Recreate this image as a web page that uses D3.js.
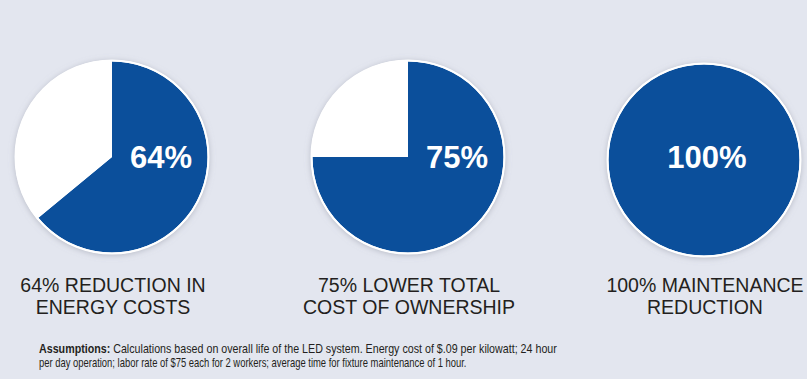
<!DOCTYPE html>
<html><head><meta charset="utf-8">
<script src="https://cdn.jsdelivr.net/npm/d3@7"></script>
<style>
html,body{margin:0;padding:0;background:#e3e6ef;}
svg{display:block;}
</style></head>
<body>
<script>
const values = [64, 75, 100];
const valueLabels = ["64%", "75%", "100%"];
const captionLine1 = ["64% REDUCTION IN", "75% LOWER TOTAL", "100% MAINTENANCE"];
const captionLine2 = ["ENERGY COSTS", "COST OF OWNERSHIP", "REDUCTION"];
const noteBold = "Assumptions:";
const noteLine1 = " Calculations based on overall life of the LED system. Energy cost of $.09 per kilowatt; 24 hour";
const noteLine2 = "per day operation; labor rate of $75 each for 2 workers; average time for fixture maintenance of 1 hour.";

const W = 807, H = 379;
const svg = d3.select("body").append("svg").attr("width", W).attr("height", H);
svg.append("rect").attr("width", W).attr("height", H).attr("fill", "#e3e6ef");

const defs = svg.append("defs");
const f = defs.append("filter").attr("id","sh").attr("x","-20%").attr("y","-20%").attr("width","140%").attr("height","140%");
f.append("feDropShadow").attr("dx",0).attr("dy",1).attr("stdDeviation",3).attr("flood-color","#8a8f9c").attr("flood-opacity",0.55);

const x = d3.scalePoint().domain(d3.range(values.length)).range([112, 704]);
const r = 95.5;
const blue = "#0b4f9b";

const pie = d3.pie().sort(null).value(d => d);
const arc = d3.arc().innerRadius(0).outerRadius(r);

values.forEach((v, i) => {
  const cy = i === 2 ? 160 : 157;
  const g = svg.append("g").attr("transform", `translate(${x(i)},${cy})`);
  g.append("circle").attr("r", r + 1.5).attr("fill", "#ffffff").attr("filter","url(#sh)");
  const arcs = pie([v, 100 - v]);
  g.selectAll("path").data(arcs).join("path")
    .attr("d", arc)
    .attr("fill", (d, j) => j === 0 ? blue : "#ffffff");
  g.append("circle").attr("r", r + 1).attr("fill", "none").attr("stroke", "#ffffff").attr("stroke-width", 2);
  const lx = v >= 100 ? 3 : 49;
  g.append("text").attr("x", lx).attr("y", 168 - cy)
    .attr("text-anchor", "middle")
    .attr("font-family", "'Liberation Sans', Arial, sans-serif")
    .attr("font-weight", "bold").attr("font-size", 31)
    .attr("fill", "#ffffff").text(valueLabels[i]);

  const cap = svg.append("text").attr("text-anchor","middle")
    .attr("font-family","'Liberation Sans', Arial, sans-serif")
    .attr("font-size", 19.5).attr("fill","#231f20");
  cap.append("tspan").attr("x", x(i) + 1).attr("y", 291.5).text(captionLine1[i]);
  cap.append("tspan").attr("x", x(i) + 1).attr("y", 313.5).text(captionLine2[i]);
});

const note = svg.append("g")
  .attr("font-family","'Liberation Sans', Arial, sans-serif")
  .attr("font-size", 12).attr("fill","#231f20");
function fitLine(sel, left, target) {
  const w = sel.node().getComputedTextLength();
  sel.attr("x", 0).attr("transform", `translate(${left},0) scale(${target / w},1)`);
}
const t1 = note.append("text").attr("y", 353.5);
t1.append("tspan").attr("font-weight","bold").text(noteBold);
t1.append("tspan").text(noteLine1);
fitLine(t1, 39, 518);
const t2 = note.append("text").attr("y", 367.5).text(noteLine2);
fitLine(t2, 39, 428);
</script>
</body></html>
